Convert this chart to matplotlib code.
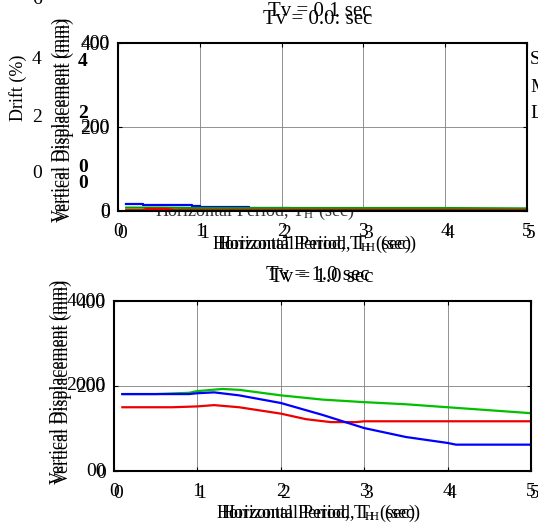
import matplotlib
matplotlib.use("Agg")
import matplotlib.pyplot as plt
import numpy as np

plt.rcParams['font.family'] = ['Liberation Serif', 'DejaVu Serif']
plt.rcParams['mathtext.fontset'] = 'stix'

# ---- data ----
x_ticks = [0, 1, 2, 3, 4, 5]
y_ticks = [0, 200, 400]

# Top panel: Tv = 0.1 sec
top_blue_x = [0.1, 0.25, 0.3, 0.9, 1.0, 1.5, 1.6, 2.0, 2.1, 2.6, 3.0, 4.5, 5.0]
top_blue_y = [17, 17, 14, 13, 10, 10, 7, 7, 5, 4, 4, 4, 4]
top_green_x = [0.1, 0.5, 1.0, 2.0, 2.5, 3.0, 4.0, 5.0]
top_green_y = [8, 8, 7, 7, 7, 7, 7, 6]
top_red_x = [0.1, 0.3, 0.35, 0.6, 0.7, 1.0, 2.0, 3.0, 4.0, 5.0]
top_red_y = [2, 2, 5, 5, 2, 2, 2, 2, 2, 2]

# Bottom panel: Tv = 1.0 sec
bot_green_x = [0.1, 0.5, 0.9, 1.0, 1.3, 1.5, 2.0, 2.5, 3.0, 3.5, 4.0, 4.5, 5.0]
bot_green_y = [181, 181, 184, 188, 193, 191, 178, 168, 162, 157, 150, 143, 136]
bot_red_x = [0.1, 0.7, 1.0, 1.2, 1.5, 2.0, 2.3, 2.6, 2.9, 3.0, 3.5, 4.0, 5.0]
bot_red_y = [150, 150, 152, 155, 150, 135, 122, 115, 115, 117, 117, 117, 117]
bot_blue_x = [0.1, 0.5, 0.9, 1.0, 1.2, 1.5, 2.0, 2.5, 3.0, 3.5, 4.0, 4.1, 5.0]
bot_blue_y = [181, 181, 181, 183, 185, 178, 160, 132, 101, 80, 66, 62, 62]

drift_left = ['6', '4', '2', '0']
drift_mid = ['4', '2', '0', '0']
legend_labels = ['S', 'M', 'L']
xlabel = 'Horizontal Period, T$_\\mathregular{H}$ (sec)'
ylabel = 'Vertical Displacement (mm)'

fig = plt.figure(figsize=(5.38, 5.29), dpi=100)
W, H = 538, 529

def axrect(l, t, r, b):
    return [l / W, 1 - b / H, (r - l) / W, (b - t) / H]

def style(ax):
    ax.set_xlim(0, 5)
    ax.set_ylim(0, 400)
    ax.set_xticks(x_ticks)
    ax.set_yticks(y_ticks)
    ax.grid(True, color='#808080', lw=0.6)
    for s in ax.spines.values():
        s.set_linewidth(1.5)
    ax.tick_params(direction='in', length=3, labelsize=14, top=True, right=True)
    ax.tick_params(axis='x', pad=9)
    ax.tick_params(axis='y', pad=6)

def fx(px):
    return px / W

def fy(py):
    return 1 - py / H

# ghost axis label partly hidden behind the top axes
fig.text(fx(255), fy(211), xlabel, fontsize=13, ha='center', va='center',
         color='#333333', zorder=-1)

top = fig.add_axes(axrect(118, 43, 527, 211))
style(top)
top.plot(top_blue_x, top_blue_y, color='#0000ff', lw=1.6, drawstyle='steps-post')
top.plot(top_green_x, top_green_y, color='#00a000', lw=1.6)
top.plot(top_red_x, top_red_y, color='#ee0000', lw=1.6)

bot = fig.add_axes(axrect(114, 301, 531, 471))
style(bot)
bot.plot(bot_green_x, bot_green_y, color='#00c000', lw=1.6)
bot.plot(bot_red_x, bot_red_y, color='#ee0000', lw=1.6)
bot.plot(bot_blue_x, bot_blue_y, color='#0000ff', lw=1.6)

# ghost duplicates of tick labels (overprinted layers)
def ghost_ticks(ax, ylabels):
    for t in x_ticks:
        ax.annotate(str(t), xy=(t, 0), xycoords=('data', 'axes fraction'),
                    xytext=(3, -16.5), textcoords='offset points',
                    ha='center', va='center', fontsize=14)
    for t, lab in zip(y_ticks, ylabels):
        ax.annotate(lab, xy=(0, t), xycoords=('axes fraction', 'data'),
                    xytext=(-6, 0), textcoords='offset points',
                    ha='right', va='center', fontsize=14)

ghost_ticks(top, ['0', '200', '400'])
ghost_ticks(bot, ['00', '2000', '4000'])

# titles (overprinted)
fig.text(fx(320), fy(12), 'Tv = 0.1 sec', fontsize=15, ha='center', va='center')
fig.text(fx(318), fy(19), 'Tv = 0.0: sec', fontsize=15, ha='center', va='center')
fig.text(fx(318), fy(276), 'Tv = 1.0 sec', fontsize=15, ha='center', va='center')
fig.text(fx(322), fy(278), 'Tv = 1.0 sec', fontsize=15, ha='center', va='center')

# x labels (overprinted)
for dx in (0, 5):
    fig.text(fx(312 + dx), fy(244), xlabel, fontsize=13, ha='center', va='center')
    fig.text(fx(316 + dx), fy(513), xlabel, fontsize=13, ha='center', va='center')

# y labels (overprinted)
for dx in (0, 5):
    fig.text(fx(60 + dx), fy(120), ylabel, rotation=90, fontsize=13,
             ha='center', va='center')
    fig.text(fx(58 + dx), fy(382), ylabel, rotation=90, fontsize=13,
             ha='center', va='center')

# drift axis remnants
fig.text(fx(18), fy(88), 'Drift (%)', rotation=90, fontsize=13,
         ha='center', va='center')
for v, yy in zip(drift_left, [0, 60, 117, 173]):
    fig.text(fx(37), fy(yy), v, fontsize=14, ha='center', va='center')
for v, yy in zip(drift_mid, [62, 113, 167, 183]):
    fig.text(fx(83), fy(yy), v, fontsize=14, ha='center', va='center',
             fontweight='bold')

# clipped legend text on the right
for v, yy in zip(legend_labels, [60, 87, 113]):
    fig.text(fx(530), fy(yy), v, fontsize=14, ha='left', va='center')

fig.savefig('out.png', dpi=100)
